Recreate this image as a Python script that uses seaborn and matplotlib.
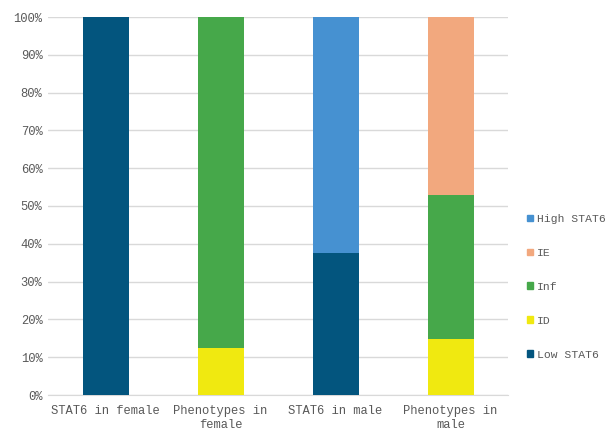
import numpy as np
import pandas as pd
import seaborn as sns
from matplotlib import pyplot as plt
from matplotlib.patches import Patch

categories = ["STAT6 in female", "Phenotypes in\nfemale", "STAT6 in male", "Phenotypes in\nmale"]

# stacked from bottom to top, percentages
low_stat6 = [100.0, 0.0, 37.5, 0.0]
id_vals = [0.0, 12.5, 0.0, 14.7]
inf_vals = [0.0, 87.5, 0.0, 38.2]
ie_vals = [0.0, 0.0, 0.0, 47.1]
high_stat6 = [0.0, 0.0, 62.5, 0.0]

series_names = ["Low STAT6", "ID", "Inf", "IE", "High STAT6"]
series_values = [low_stat6, id_vals, inf_vals, ie_vals, high_stat6]
series_colors = ["#03557e", "#f0e910", "#46a84a", "#f2a87e", "#4691d1"]

sns.set_style("white")
plt.rcParams['font.family'] = ['Liberation Mono', 'DejaVu Sans Mono']

fig = plt.figure(figsize=(6.09, 4.38), dpi=100)
ax = fig.add_axes([48 / 609, 1 - 395 / 438, 460 / 609, 378 / 438])

bottom = np.zeros(len(categories))
for name, vals, color in zip(series_names, series_values, series_colors):
    df = pd.DataFrame({"cat": categories, "val": vals})
    sns.barplot(data=df, x="cat", y="val", color=color, width=0.4,
                bottom=bottom, ax=ax, errorbar=None, zorder=3,
                saturation=1, linewidth=0)
    bottom = bottom + np.array(vals)

ax.set_ylim(0, 100)
ax.set_xlim(-0.5, len(categories) - 0.5)
ax.set_yticks(range(0, 101, 10))
ax.set_yticklabels([f"{v}%" for v in range(0, 101, 10)])
ax.set_xlabel("")
ax.set_ylabel("")
ax.yaxis.grid(True, color="#d9d9d9", linewidth=1, zorder=0)
for s in ["top", "right", "left"]:
    ax.spines[s].set_visible(False)
ax.spines["bottom"].set_color("#d9d9d9")
ax.tick_params(axis="both", length=0, labelsize=8.7, colors="#595959", pad=7)
ax.tick_params(axis="y", pad=4)

handles = [Patch(color=c, label=n) for n, c in zip(series_names, series_colors)][::-1]
fig.legend(handles=handles, loc="center left", bbox_to_anchor=(527 / 609, 0.345),
           frameon=False, fontsize=8.2, labelcolor="#595959",
           handlelength=0.55, handleheight=0.55, handletextpad=0.3,
           labelspacing=2.1, borderpad=0, borderaxespad=0)

plt.savefig("out.png", dpi=100)
